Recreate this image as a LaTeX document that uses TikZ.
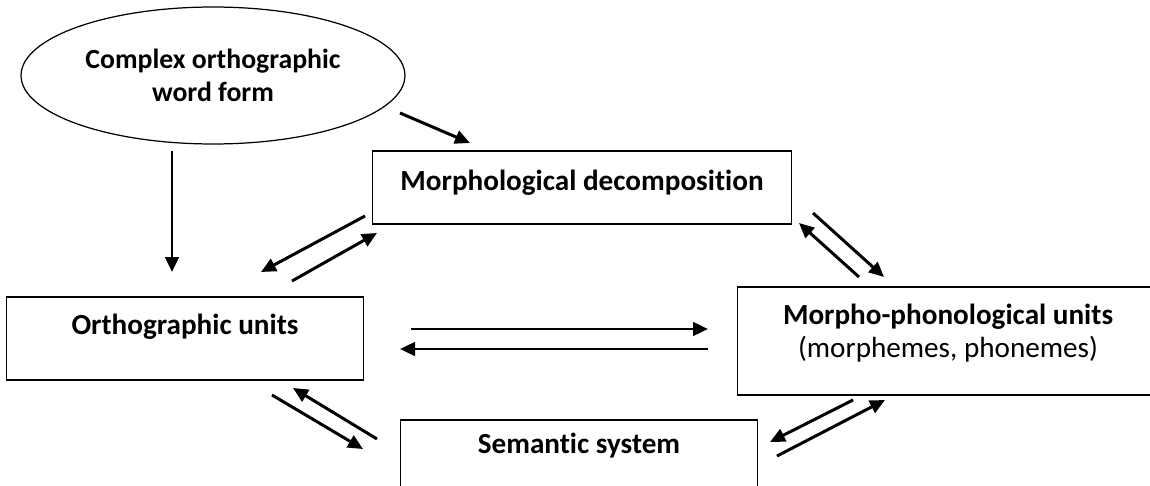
\documentclass[tikz,border=0pt]{standalone}
\usepackage{fontspec}
\setmainfont[Ligatures=NoCommon]{Carlito}
\usepackage{tikz}
\usetikzlibrary{shapes.geometric, arrows.meta, positioning}

\begin{document}
\begin{tikzpicture}[
    x=0.02cm, y=-0.02cm,
    wordform/.style={ellipse, draw=black, line width=0.7pt, minimum width=7.68cm, minimum height=2.74cm, align=center, font=\fontsize{15.8}{18.5}\selectfont\bfseries},
    box/.style={rectangle, draw=black, line width=0.6pt},
    boxtext/.style={font=\fontsize{16.6}{18.8}\selectfont, align=center},
    arrow/.style={line width=1.7pt, -{Triangle[length=0.3cm, width=0.27cm]}}
]
\path[use as bounding box, clip] (0,0) rectangle (1150,486);

% Nodes
\node (wordform) [wordform] at (213,75.5) {Complex orthographic\\word form};
\node (morphdec) [box, minimum width=8.4cm, minimum height=1.46cm,
    label={[boxtext, yshift=0.09cm]center:\bfseries Morphological decomposition}] at (582,187.5) {};
\node (orth) [box, minimum width=7.16cm, minimum height=1.66cm,
    label={[boxtext, yshift=0.24cm]center:\bfseries Orthographic units}] at (185,338.5) {};
\node (morphphon) [box, minimum width=8.44cm, minimum height=2.16cm,
    label={[boxtext, yshift=0.15cm]center:\textbf{Morpho-phonological units}\\(morphemes, phonemes)}] at (948,341) {};
\node (semantic) [box, minimum width=7.16cm, minimum height=1.66cm,
    label={[boxtext, yshift=0.32cm]center:\bfseries Semantic system}] at (579,461.5) {};

% Arrow end points
\coordinate (wf_o1) at (172,151);  \coordinate (wf_o2) at (172,272);
\coordinate (wf_m1) at (400,113);  \coordinate (wf_m2) at (470,143);
\coordinate (md_o1) at (365,216);  \coordinate (md_o2) at (261,272);
\coordinate (o_md1) at (292,281);  \coordinate (o_md2) at (377,233);
\coordinate (md_p1) at (813,213);  \coordinate (md_p2) at (884,277);
\coordinate (p_md1) at (859,277);  \coordinate (p_md2) at (799,223);
\coordinate (o_p1) at (411,329);   \coordinate (o_p2) at (708,329);
\coordinate (p_o1) at (708,349);   \coordinate (p_o2) at (400,349);
\coordinate (o_s1) at (272,395);   \coordinate (o_s2) at (363,449);
\coordinate (s_o1) at (377,439);   \coordinate (s_o2) at (293,388);
\coordinate (p_s1) at (853,400);   \coordinate (p_s2) at (770,442);
\coordinate (s_p1) at (777,456);   \coordinate (s_p2) at (885,400);

% Arrows from the word form
\draw [arrow] (wf_o1) -- (wf_o2);
\draw [arrow] (wf_m1) -- (wf_m2);

% Arrows between the units
\draw [arrow] (md_o1) -- (md_o2);
\draw [arrow] (o_md1) -- (o_md2);
\draw [arrow] (md_p1) -- (md_p2);
\draw [arrow] (p_md1) -- (p_md2);
\draw [arrow] (o_p1) -- (o_p2);
\draw [arrow] (p_o1) -- (p_o2);
\draw [arrow] (o_s1) -- (o_s2);
\draw [arrow] (s_o1) -- (s_o2);
\draw [arrow] (p_s1) -- (p_s2);
\draw [arrow] (s_p1) -- (s_p2);

\end{tikzpicture}
\end{document}
